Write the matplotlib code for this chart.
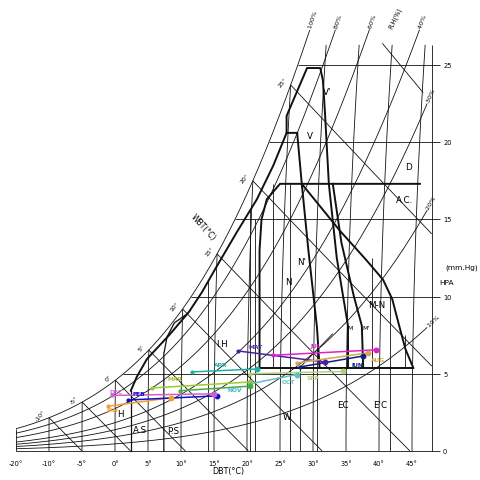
import numpy as np
import matplotlib
matplotlib.use("Agg")
import matplotlib.pyplot as plt

# ---------------- chart constants ----------------
SKEW = 0.00288        # drift of the drawn chart towards the right at high vapour pressure
WBT_SLOPE = 0.43      # mmHg per degC along wet-bulb lines
P_TOP = 26.3

rh_levels = [100, 80, 60, 40, 30, 20, 10]
rh_labels = ["100%", "80%", "60%", "40%", "30%", "20%", "10%"]
dbt_lines = [-10, -5, 0, 5, 10, 15, 20, 25, 30, 35, 40, 45]
dbt_tick_pos = [-15, -10, -5, 0, 5, 10, 15, 20, 25, 30, 35, 40, 45]
dbt_tick_labels = ["-20°", "-10°", "-5°", "0°", "5°", "10°", "15°", "20°",
                   "25°", "30°", "35°", "40°", "45°"]
wbt_lines = [-10, -5, 0, 5, 10, 15, 20, 25]
wbt_labels = ["-10°", "-5°", "0°", "5°", "10°", "15°", "20°", "25°"]
hpa_ticks = [0, 5, 10, 15, 20, 25]
hpa_lines = [5, 10, 15, 20, 25]

# ---------------- zone boundaries ----------------
outer_T = [2.4, 3.3, 4.85, 8.2, 11.2, 13.2, 15.45, 18.5, 21.5, 24.0, 26.0, 27.6]
outer_p = [3.9, 4.8, 5.96, 7.5, 9.0, 10.3, 11.98, 14.2, 16.3, 18.5, 20.6, 20.6]
vprime_T = [26.0, 26.0, 29.1, 31.1, 31.5, 31.8, 32.4, 33.6, 35.3, 35.3]
vprime_p = [20.6, 21.7, 24.8, 24.8, 24.0, 22.0, 17.3, 12.5, 8.1, 5.4]
vright_T = [27.6, 28.3, 29.3, 30.6, 31.0]
vright_p = [20.6, 17.3, 13.0, 8.0, 5.4]
mprime_T = [33.0, 34.3, 36.2, 37.4, 37.6]
mprime_p = [17.3, 13.5, 10.0, 8.1, 5.4]
inner_T = [46.2, 25.0, 23.0, 22.2, 21.9, 21.9]
inner_p = [17.3, 17.3, 16.3, 15.0, 13.0, 5.4]
mn_T = [28.3, 34.1, 38.0, 40.6, 42.0, 43.0, 44.0, 45.2]
mn_p = [17.3, 14.25, 12.4, 11.1, 9.84, 8.2, 6.6, 5.38]
base_T = [21.9, 45.2]
base_p = [5.4, 5.4]
pscurve_T = [7.4, 7.4, 7.9, 9.0, 11.0]
pscurve_p = [0.0, 6.3, 7.4, 8.3, 8.9]
ascurve_T = [2.4, 2.4]
ascurve_p = [0.0, 3.9]
extra_T = [14.1, 20.5, 21.2, 26.5, 30.6, 41.7, 23.9, 38.9, 44.0, 28.0]
extra_p0 = [0.0, 0.0, 0.0, 0.0, 0.0, 0.0, 5.4, 5.4, 5.4, 0.0]
extra_p1 = [11.1, 15.6, 15.0, 17.3, 8.0, 10.2, 17.3, 12.5, 7.5, 5.4]
diag_T = [40.5, 46.7]
diag_p = [26.4, 23.2]
nline_T = [28.0, 33.0]
nline_p = [5.4, 7.6]

zone_names = ["V'", "V", "D", "A.C.", "N'", "N", "M-N", "I.H", "EC", "E'C", "W", "A.S", "P.S", "H"]
zone_T = [32.1, 29.5, 44.4, 43.9, 28.3, 26.2, 39.7, 16.2, 34.5, 40.2, 26.0, 3.8, 8.8, 0.8]
zone_p = [23.25, 20.4, 18.4, 16.3, 12.3, 11.0, 9.5, 6.93, 3.0, 3.0, 2.2, 1.4, 1.3, 2.4]
small_names = ["M", "M'"]
small_T = [35.6, 38.0]
small_p = [8.0, 8.0]

# ---------------- monthly data ----------------
months = ["JAN", "FEB", "MAR", "APR", "MAY", "JUN", "JUL", "AUG", "SEP", "OCT", "NOV", "DEC"]
t_lo = [-1.0, 2.0, 5.6, 11.7, 18.6, 28.0, 24.0, 27.5, 20.5, 20.5, 9.8, -0.5]
p_lo = [2.9, 3.3, 4.08, 5.12, 6.48, 5.44, 6.2, 5.7, 5.0, 4.35, 3.9, 3.6]
t_hi = [8.5, 15.5, 20.5, 21.5, 31.8, 37.6, 39.5, 38.3, 34.5, 27.5, 20.5, 15.0]
p_hi = [3.45, 3.57, 4.47, 5.31, 5.76, 6.15, 6.55, 6.35, 5.15, 4.95, 4.2, 3.7]
month_colors = ["#f0a030", "#1010c8", "#a0c832", "#20b0a0", "#4a20a0", "#102080",
                "#e020c8", "#d8a850", "#b0d080", "#60c0c0", "#40b040", "#d060d0"]
lab_T = [-1.3, 2.6, 8.0, 15.0, 20.2, 35.8, 29.6, 38.8, 29.0, 25.3, 17.0, -0.8]
lab_p = [2.55, 3.55, 4.5, 5.45, 6.6, 5.45, 6.7, 5.75, 4.6, 4.35, 3.85, 3.72]
lab_colors = ["#f0a030", "#1010c8", "#a0c832", "#20b0a0", "#4a20a0", "#102080",
              "#e020c8", "#d8a850", "#b0d080", "#60c0c0", "#40b8d0", "#d060d0"]


def ps(T):
    return 0.750062 * 6.112 * np.exp(17.62 * T / (243.12 + T))


def t_sat(p):
    l = np.log(p / 0.750062 / 6.112)
    return 243.12 * l / (17.62 - l)


def skew(T, p):
    return T + SKEW * np.asarray(p) ** 2


fig = plt.figure(figsize=(4.8, 4.81), dpi=100)
ax = fig.add_axes([0, 0, 1, 1])
ax.set_xlim(-17.42, 55.3)
ax.set_ylim(-1.88, 29.27)
ax.axis("off")

thin = dict(color="#111111", lw=0.6, solid_capstyle="butt")
thick = dict(color="#111111", lw=1.4, solid_joinstyle="round")

# RH curves
T = np.linspace(-15, 50, 2000)
for rh, lab in zip(rh_levels, rh_labels):
    p = rh / 100.0 * ps(T)
    x = skew(T, p)
    m = (p <= 27.3) & (x <= 47.3)
    xs, pv = x[m], p[m]
    ax.plot(xs, pv, **thin)
    d = ax.transData.transform([[xs[-25], pv[-25]], [xs[-1], pv[-1]]])
    ang = np.degrees(np.arctan2(d[1, 1] - d[0, 1], d[1, 0] - d[0, 0]))
    ax.text(xs[-1], pv[-1], " " + lab, rotation=ang, rotation_mode="anchor",
            ha="left", va="center", fontsize=4.6)

# dry bulb lines
for t in dbt_lines:
    p = np.linspace(0, min(ps(t), P_TOP), 60)
    ax.plot(skew(t, p), p, **thin)

# wet bulb lines
for tw, lab in zip(wbt_lines, wbt_labels):
    P0 = ps(tw)
    tt = np.linspace(tw, tw + 120, 4000)
    p = P0 - WBT_SLOPE * (tt - tw)
    x = skew(tt, p)
    m = (p >= 0) & (x <= 48)
    ax.plot(x[m], p[m], **thin)
    ax.text(x[m][0] - 0.4, p[m][0] + 0.2, lab, rotation=52, ha="right",
            va="center", fontsize=4.5)

# horizontal vapour pressure lines and axes
for pv in hpa_lines:
    ax.plot([skew(t_sat(pv), pv), 49.2], [pv, pv], **thin)
ax.plot([-15, 49.2], [0, 0], **thin)
ax.plot([48, 48], [0, P_TOP], **thin)
ax.plot([-15, -15], [0, ps(-15)], **thin)
for pv in hpa_ticks:
    ax.text(49.7, pv, str(pv), ha="left", va="center", fontsize=4.8)
for t, lab in zip(dbt_tick_pos, dbt_tick_labels):
    ax.text(t, -0.75, lab, ha="center", va="center", fontsize=4.8)

# extra thin lines
for t, a, b in zip(extra_T, extra_p0, extra_p1):
    ax.plot([t, t], [a, b], **thin)
ax.plot(diag_T, diag_p, **thin)
ax.plot(nline_T, nline_p, **thin)
ax.plot(pscurve_T, pscurve_p, color="#111111", lw=0.9)
ax.plot(ascurve_T, ascurve_p, color="#111111", lw=0.9)

# zone boundaries
for zt, zp in [(outer_T, outer_p), (vprime_T, vprime_p), (vright_T, vright_p),
               (mprime_T, mprime_p), (inner_T, inner_p), (mn_T, mn_p),
               (base_T, base_p)]:
    ax.plot(zt, zp, **thick)

for name, t, p in zip(zone_names, zone_T, zone_p):
    ax.text(t, p, name, ha="center", va="center", fontsize=6.3)
for name, t, p in zip(small_names, small_T, small_p):
    ax.text(t, p, name, ha="center", va="center", fontsize=4.5)

# monthly lines
for i in range(len(months)):
    c = month_colors[i]
    ax.plot([t_lo[i], t_hi[i]], [p_lo[i], p_hi[i]], color=c, lw=1.1, zorder=5)
    ax.plot(t_lo[i], p_lo[i], "o", color=c, ms=2.0, zorder=6)
    ax.plot(t_hi[i], p_hi[i], "o", color=c, ms=3.2, zorder=6)
    ax.text(lab_T[i], lab_p[i], months[i], color=lab_colors[i], fontsize=4.3,
            ha="left", va="bottom", fontweight="bold", zorder=7)

# axis titles
ax.text(17.1, -1.25, "DBT(°C)", ha="center", va="center", fontsize=5.8)
ax.text(13.4, 14.5, "WBT(°C)", ha="center", va="center", fontsize=5.5, rotation=-48)
ax.text(42.4, 28.1, "R.H(%)", ha="center", va="center", fontsize=4.8, rotation=65)
ax.text(52.6, 11.9, "(mm.Hg)", ha="center", va="center", fontsize=5.3)
ax.text(50.2, 10.95, "HPA", ha="center", va="center", fontsize=5.3)

fig.savefig("out.png", dpi=100, facecolor="white")
